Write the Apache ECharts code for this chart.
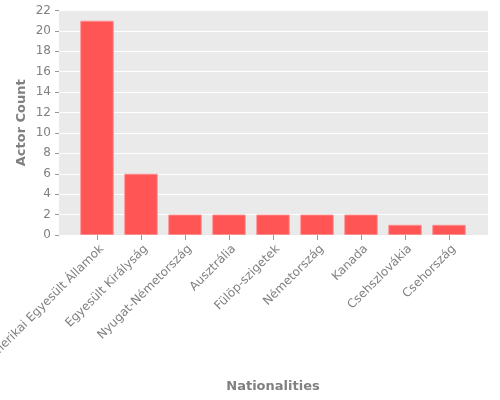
<!DOCTYPE html>
<html>
<head>
<meta charset="utf-8">
<script src="https://cdn.jsdelivr.net/npm/echarts@6/dist/echarts.min.js"></script>
<style>
  html, body { margin: 0; padding: 0; background: #fff; }
  #chart { width: 500px; height: 400px; }
</style>
</head>
<body>
<div id="chart"></div>
<script>
// nationalities (hungarian names) and how many actors each
const nationalities = [
    'Amerikai Egyesült Államok', 'Egyesült Királyság', 'Nyugat-Németország',
    'Ausztrália', 'Fülöp-szigetek', 'Németország', 'Kanada',
    'Csehszlovákia', 'Csehország'
];
const actorCounts = [21, 6, 2, 2, 2, 2, 2, 1, 1];
const yTicks = { min: 0, max: 22, step: 2 };

const chart = echarts.init(document.getElementById('chart'));
const font = 'DejaVu Sans';
const grey = '#808080';
const nameStyle = { color: grey, fontSize: 13, fontWeight: 'bold', fontFamily: font };

// grid 0 = grey panel with the y axis, grid 1 = the bars (padded inside the panel)
chart.setOption({
    animation: false,
    textStyle: { fontFamily: font },
    grid: [
        {
            left: 59, right: 12, top: 10.5, bottom: 165,
            outerBoundsMode: 'none', containLabel: false,
            show: true, backgroundColor: '#EAEAEA', borderWidth: 0
        },
        {
            left: 75, right: 29, top: 10.5, bottom: 165,
            outerBoundsMode: 'none', containLabel: false
        }
    ],
    xAxis: [
        {
            gridIndex: 0, type: 'category', data: nationalities,
            show: false
        },
        {
            gridIndex: 1,
            type: 'category',
            data: nationalities,
            name: 'Nationalities',
            nameLocation: 'middle',
            nameGap: 145,
            nameMoveOverlap: false,
            nameTextStyle: nameStyle,
            axisLine: { show: false },
            axisTick: { show: true, alignWithLabel: true, length: 5, lineStyle: { color: '#999' } },
            axisLabel: {
                rotate: 45, margin: 17, padding: [0, -7, 0, 0],
                color: grey, fontSize: 12, fontFamily: font
            },
            splitLine: { show: false }
        }
    ],
    yAxis: [
        {
            gridIndex: 0,
            type: 'value',
            min: yTicks.min,
            max: yTicks.max,
            interval: yTicks.step,
            name: 'Actor Count',
            nameLocation: 'middle',
            nameGap: 31,
            nameMoveOverlap: false,
            nameTextStyle: nameStyle,
            axisLine: { show: false },
            axisTick: { show: true, length: 4, lineStyle: { color: '#999' } },
            axisLabel: { margin: 8, color: grey, fontSize: 12, fontFamily: font },
            splitLine: { show: true, lineStyle: { color: '#fff', width: 1 } }
        },
        {
            gridIndex: 1,
            type: 'value',
            min: yTicks.min,
            max: yTicks.max,
            interval: yTicks.step,
            show: false,
            splitLine: { show: false }
        }
    ],
    series: [
        {
            name: 'Actor Count',
            type: 'bar',
            xAxisIndex: 1,
            yAxisIndex: 1,
            data: actorCounts,
            barWidth: '76%',
            itemStyle: {
                color: '#FF5555',
                borderColor: 'rgba(255,140,140,0.9)',
                borderWidth: 1
            }
        }
    ]
});
</script>
</body>
</html>
